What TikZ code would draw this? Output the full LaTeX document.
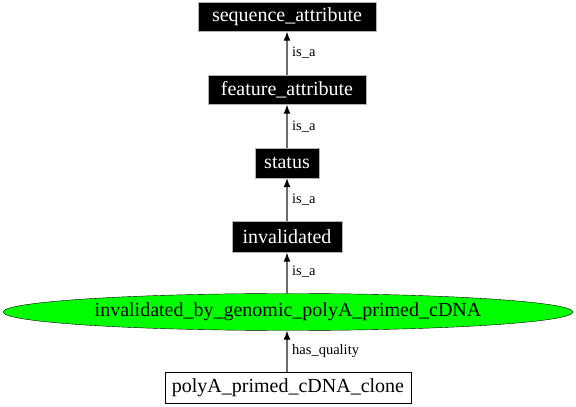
\documentclass[tikz,border=0pt]{standalone}
\usepackage{fontspec}
\setmainfont{Liberation Serif}
\usetikzlibrary{arrows.meta,shapes.geometric}
\begin{document}
\begin{tikzpicture}[x=1pt,y=1pt,
  blackbox/.style={rectangle,fill=black,draw=gray!60,text=white,font=\fontsize{20}{22}\selectfont,inner sep=0pt,minimum height=29pt},
  whitebox/.style={rectangle,fill=white,draw=black,font=\fontsize{20}{22}\selectfont,inner sep=0pt,minimum height=31pt},
  greenell/.style={ellipse,fill=green,draw=black,font=\fontsize{20}{22}\selectfont,inner sep=0pt,minimum width=570pt,minimum height=37pt},
  rel/.style={draw=gray!85!black,line width=1.1pt,-{Latex[length=9pt,width=7pt,black]}},
  lbl/.style={font=\fontsize{14.5}{16}\selectfont,anchor=west,inner sep=0pt}]
\useasboundingbox (0,0) rectangle (576,407);
\node[blackbox,minimum width=178pt] (seq) at (287,390) {sequence\_attribute};
\node[blackbox,minimum width=158pt] (feat) at (287,317) {feature\_attribute};
\node[blackbox,minimum width=64pt,minimum height=30pt] (status) at (287,244) {status};
\node[blackbox,minimum width=110pt,minimum height=31pt] (inv) at (287,170) {invalidated};
\node[greenell] (ell) at (288,95) {invalidated\_by\_genomic\_polyA\_primed\_cDNA};
\node[whitebox,minimum width=246pt] (poly) at (288,19) {polyA\_primed\_cDNA\_clone};
\draw[rel] (feat.north -| seq.south) -- (seq.south);
\draw[rel] (status.north -| seq.south) -- (feat.south -| seq.south);
\draw[rel] (inv.north -| seq.south) -- (status.south -| seq.south);
\draw[rel] (ell.north -| seq.south) -- (inv.south -| seq.south);
\draw[rel] (poly.north -| seq.south) -- (ell.south -| seq.south);
\node[lbl] (l1) at (292,354) {is\_a};
\node[lbl] (l2) at (292,280) {is\_a};
\node[lbl] (l3) at (292,207) {is\_a};
\node[lbl] (l4) at (292,135) {is\_a};
\node[lbl] (l5) at (292,56) {has\_quality};
\end{tikzpicture}
\end{document}
